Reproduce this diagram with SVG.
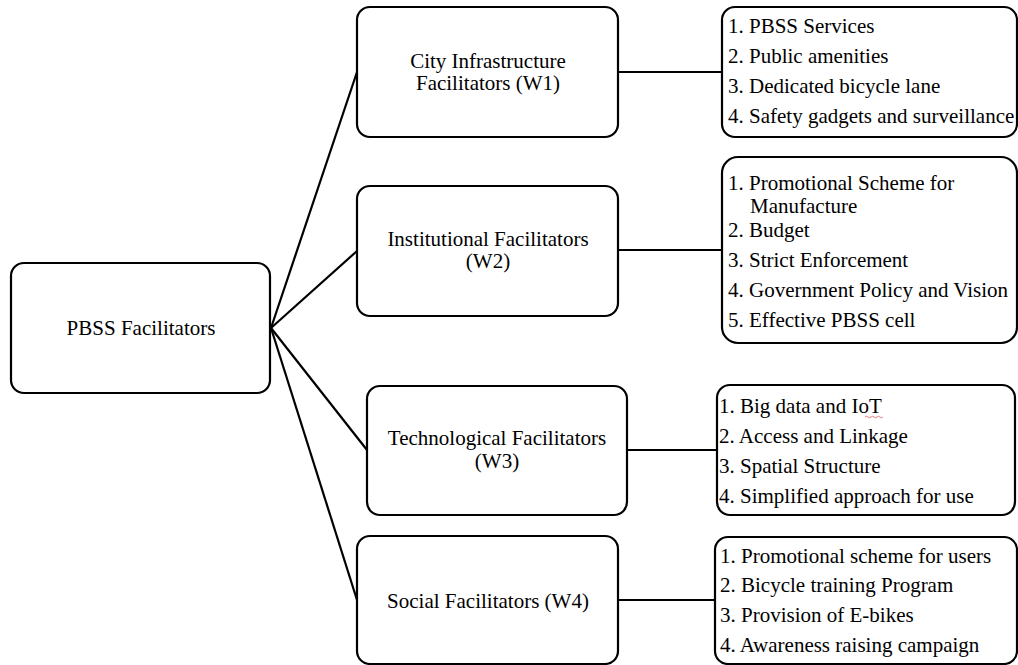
<svg xmlns="http://www.w3.org/2000/svg" width="1018" height="665" viewBox="0 0 1018 665">
<style>
.box{fill:#fff;stroke:#000;stroke-width:2.2}
text{font-family:'Liberation Serif','Times New Roman',Tinos,'DejaVu Serif',serif;font-size:21px;fill:#000}
.c{text-anchor:middle}
.ln{stroke:#000;stroke-width:2.2;fill:none}
</style>
<rect width="1018" height="665" fill="#fff"/>
<g id="connectors">
<line class="ln" x1="271" y1="328" x2="357" y2="72"/>
<line class="ln" x1="271" y1="328" x2="357" y2="251"/>
<line class="ln" x1="271" y1="328" x2="367" y2="450"/>
<line class="ln" x1="271" y1="328" x2="357" y2="600"/>
<line class="ln" x1="618" y1="72" x2="722" y2="72"/>
<line class="ln" x1="618" y1="250" x2="722" y2="250"/>
<line class="ln" x1="627" y1="450" x2="717" y2="450"/>
<line class="ln" x1="618" y1="600" x2="715" y2="600"/>
</g>
<g id="root" font-family="Liberation Serif, serif">
<rect class="box" x="11" y="263" width="259" height="130" rx="13"/>
<text class="c" x="141" y="335">PBSS Facilitators</text>
</g>
<g id="w1">
<rect class="box" x="357" y="7" width="261" height="130" rx="13"/>
<text class="c" x="488" y="68">City Infrastructure</text>
<text class="c" x="488" y="90">Facilitators (W1)</text>
</g>
<g id="w1-list">
<rect class="box" x="722" y="7" width="295" height="130" rx="13"/>
<text x="728" y="33">1. PBSS Services</text>
<text x="728" y="63">2. Public amenities</text>
<text x="728" y="93">3. Dedicated bicycle lane</text>
<text x="728" y="123">4. Safety gadgets and surveillance</text>
</g>
<g id="w2">
<rect class="box" x="357" y="186" width="261" height="130" rx="13"/>
<text class="c" x="488" y="246">Institutional Facilitators</text>
<text class="c" x="488" y="268">(W2)</text>
</g>
<g id="w2-list">
<rect class="box" x="722" y="157" width="295" height="186" rx="16"/>
<text x="728" y="190">1. Promotional Scheme for</text>
<text x="750" y="213">Manufacture</text>
<text x="728" y="237">2. Budget</text>
<text x="728" y="267">3. Strict Enforcement</text>
<text x="728" y="297">4. Government Policy and Vision</text>
<text x="728" y="327">5. Effective PBSS cell</text>
</g>
<g id="w3">
<rect class="box" x="367" y="386" width="260" height="129" rx="13"/>
<text class="c" x="497" y="445">Technological Facilitators</text>
<text class="c" x="497" y="468">(W3)</text>
</g>
<g id="w3-list">
<rect class="box" x="717" y="385" width="298" height="130" rx="13"/>
<text x="719" y="413">1. Big data and IoT</text>
<text x="719" y="443">2. Access and Linkage</text>
<text x="719" y="473">3. Spatial Structure</text>
<text x="719" y="503">4. Simplified approach for use</text>
<path d="M865 417 q1.5 -1.5 3 0 t3 0 t3 0 t3 0 t3 0 t3 0" stroke="#e06060" stroke-width="0.8" fill="none"/>
</g>
<g id="w4">
<rect class="box" x="357" y="536" width="261" height="128" rx="13"/>
<text class="c" x="488" y="608">Social Facilitators (W4)</text>
</g>
<g id="w4-list">
<rect class="box" x="715" y="537" width="302" height="127" rx="13"/>
<text x="720" y="563">1. Promotional scheme for users</text>
<text x="720" y="592">2. Bicycle training Program</text>
<text x="720" y="622">3. Provision of E-bikes</text>
<text x="720" y="652">4. Awareness raising campaign</text>
</g>
</svg>
